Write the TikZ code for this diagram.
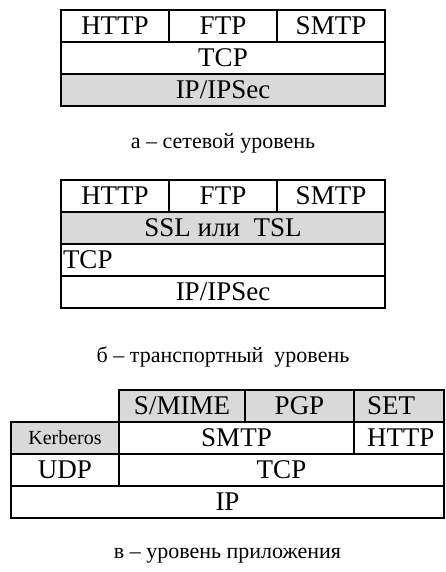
\documentclass[tikz,border=0pt]{standalone}
\usepackage{fontspec}
\setmainfont{Liberation Serif}
\definecolor{shade}{HTML}{D9D9D9}
\tikzset{
  cell/.style={draw, line width=1.6pt, minimum height=32pt, inner sep=0pt,
    font=\fontsize{27}{29}\selectfont},
  grey/.style={fill=shade},
  leftcell/.style={text width=64pt, inner xsep=13pt, align=left},
  caption/.style={font=\fontsize{22}{24}\selectfont, inner sep=0pt}
}
\begin{document}
\begin{tikzpicture}[x=1pt,y=-1pt]
\useasboundingbox (0,0) rectangle (446,572);

% (a) network level
\node[cell, minimum width=108pt] (a1) at (115,26) {HTTP};
\node[cell, minimum width=108pt] (a2) at (223,26) {FTP};
\node[cell, minimum width=108pt] (a3) at (331,26) {SMTP};
\node[cell, minimum width=324pt] (a4) at (223,58) {TCP};
\node[cell, grey, minimum width=324pt] (a5) at (223,90) {IP/IPSec};
\node[caption] (capa) at (223,143) {а – сетевой уровень};

% (b) transport level
\node[cell, minimum width=108pt] (b1) at (115,196) {HTTP};
\node[cell, minimum width=108pt] (b2) at (223,196) {FTP};
\node[cell, minimum width=108pt] (b3) at (331,196) {SMTP};
\node[cell, grey, minimum width=324pt] (b4) at (223,228) {SSL или\ \ TSL};
\node[cell, minimum width=324pt, text width=320pt, inner xsep=2pt, align=left] (b5) at (223,260) {TCP};
\node[cell, minimum width=324pt] (b6) at (223,292) {IP/IPSec};
\node[caption] (capb) at (223,357) {б – транспортный\ \ уровень};

% (c) application level
\node[cell, grey, minimum width=126pt] (c1) at (182,406) {S/MIME};
\node[cell, grey, minimum width=109pt] (c2) at (299.5,406) {PGP};
\node[cell, grey, minimum width=90pt, leftcell] (c3) at (399,406) {SET};
\node[cell, grey, minimum width=108pt, font=\fontsize{20}{22}\selectfont] (c4) at (65,438) {Kerberos};
\node[cell, minimum width=235pt] (c5) at (236.5,438) {SMTP};
\node[cell, minimum width=90pt, leftcell] (c6) at (399,438) {HTTP};
\node[cell, minimum width=108pt] (c7) at (65,470) {UDP};
\node[cell, minimum width=325pt] (c8) at (281.5,470) {TCP};
\node[cell, minimum width=433pt] (c9) at (227.5,502) {IP};
\node[caption] (capc) at (227.5,556) {в – уровень приложения};
\end{tikzpicture}
\end{document}
